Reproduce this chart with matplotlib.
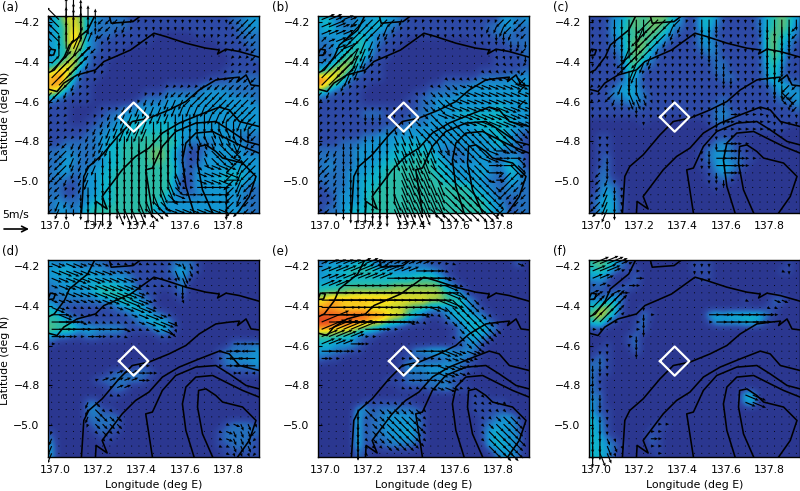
import numpy as np
import matplotlib
matplotlib.use("Agg")
import matplotlib.pyplot as plt
from matplotlib.colors import LinearSegmentedColormap
from matplotlib.transforms import Bbox, TransformedBbox

# colour level per grid cell (hex digit), rows run north to south
SPEED_A = ["35786432222111111111111112233", "34687322222111111111111111233", "34697322211111100000111111222",
           "34697321111111000000000111122", "34586321111000000000000011112", "34574211100000000000000001112",
           "35785211000000000000000001111", "79962111000000000000000011111", "9a841110000000000000001112222",
           "9a621100000000001111122222222", "86211100000001112222233332222", "21111100000012223333333333332",
           "11100001112233333333333333333", "11100011223333333333333333333", "11100112233444444333333333333",
           "11111122334444444433333333333", "11111223344455555433333333222", "11222223445555555532222333322",
           "22322223445555665321123333322", "22332223445555665321133333333", "22422233445555555421233333333",
           "23322334455555555421333344433", "22212334455555555311333444433", "22112334455555555311333333322",
           "22112334455555554322233333322", "23222344455555543333333333222", "23323455555555433333333333322"]
SPEED_B = ["44232333433211111111111113323", "35322334432111111111111223322", "33333443221111111111111122212",
           "22333543211100000000011111222", "22344543111000000000000111112", "21346542110000000000000011112",
           "23476421100000000000000011111", "46875311100000000000001111112", "a9852111100000000111112222333",
           "a7421110000000011222233333333", "42111100000001122223333333333", "11111100000011223333333333333",
           "11111111111111223333333344333", "11111122211112233334444444333", "11111111111122233333344444433",
           "11111111122233333333334444332", "11111122333333333333333344321", "11122233333444433333333344321",
           "22222333334444443222333332221", "22222333344445544322233322331", "23222333445555554433333323531",
           "22223334455555554433334322432", "22223344455555555443333221432", "12223344555555555555543322322",
           "11233345555555555555544322222", "11233345555555555555555432122", "12234445555555555555555433122"]
SPEED_C = ["11133565666431144311111245653", "11134565665321144211111245652", "11134555654211133111111156542",
           "11123566542111133211111156431", "11123566421111123211111156421", "11112565311111112211111146411",
           "11112563211111111221111145311", "11111541111111111221111135211", "11111431111111111122111135211",
           "11113331111111111111111113432", "11133432111111111111111112333", "11122332111111111121111111223",
           "11111121111111111221111111112", "11111111111111111232111111111", "00000001000000001221111111111",
           "00000000000000000111111111100", "01100000000000000111000000000", "01100000000000001232110000000",
           "01100000000000012332110000000", "01200000000000012332211000000", "01200000000000011343210000000",
           "02200000000000001232100000000", "02210000000000001121000000000", "02321000000000000100000000000",
           "12421000000000000000000000000", "13431000000000000000000000000", "13431000000000000000000000000"]
SPEED_D = ["32332222111111111222100000000", "34433333222111111342100000000", "33343433333211111131000000000",
           "23333344443311111130000000000", "22333345554421100120000000000", "22222223345432100010000000000",
           "42111111123443100000000000000", "54211111111234321000000000000", "55432111111123443100000000000",
           "65653433332111243100000000000", "32211221111000011000000000000", "10000000000000000000000002222",
           "00000000000000000000000122223", "00000000000000000000000123333", "00000000000011000000000122223",
           "00000000122222100000000001111", "00000012222221000000000000000", "00000000122000000000000000000",
           "00000000110000000000000000000", "00000220000000000000000000000", "00000231100000000000000000000",
           "00000222220000000000000000000", "00000122220000000000000012221", "10000012110000000000000122222",
           "20000001100000000000000122221", "30000000000000000000000112221", "30000000000000000000000011111"]
SPEED_E = ["23333443222222211110000000020", "34445555443333332100000000000", "33344444444445554210000000000",
           "44455555556666666421000000000", "56667777777777777543100000000", "89a99999998888877655320000000",
           "9a988887777765533334321000000", "bbbbbbbaa98854211244432100000", "ccbbbaa8865421100123444210000",
           "99888654311000000002344320000", "55544211000000000012343200000", "44333210000000000001231000000",
           "33221100000013344432321000000", "21100000000111111223210000000", "00000000000133333332110000000",
           "00000000000122233322100000000", "00000000011122222211000000000", "00000000000111122321100000000",
           "00000000000000000000011000000", "00000011111110000000011111000", "00000331222222100000011111000",
           "00000412233332100000001123310", "00000412233333100000001233320", "00000412233342100000001343320",
           "00000412223333100000001343330", "00000411122221000000000344320", "00000210000000000000000023320"]
SPEED_F = ["56542100000000111000000000010", "45421110000000111000000000110", "33200020000000011000000000000",
           "12101210000000000000000000000", "21122000000000000000000000000", "32342000000000000000010002200",
           "46751001000000000000000011000", "68631002100000003434444421000", "46210012000000001333344310000",
           "11000012000000000000000000000", "00000120000000000000000000000", "00100120000000000000000000000",
           "01100020000000000000000000000", "12100000000000000000000000000", "22100000000000000000000000000",
           "21100000000000000000000000000", "21000000000000000000000000000", "21000000000000000000000000000",
           "22000000000000000000044000000", "32000000000000000000034000000", "31100000000000000000000000000",
           "42100000000000000000000000000", "43100000011000000000000000000", "43100000110000000000000000000",
           "44210000210000000000000000000", "44321000110000000000000000000", "44310000010000000000000000000"]

# wind direction per grid cell, hex digit in steps of 22.5 deg clockwise from north
DIR_A = ["ee00000aaa999988888888888aaaa", "ee00000aa9998888888888888aaaa", "ee00000a99998888888888899aaaa",
         "ee00011999988888888888899aaaa", "e0011aa999988888888889999aaaa", "e0112a9999988888888999999aaaa",
         "2222a99999988888889999aaaaaaa", "2222999999988888899aaaaaaaaaa", "222a99999998888899aaaaaaaaaaa",
         "22a9999999998899aaaaaaaaaaaaa", "aa999999999999999aaaaaaaaaaaa", "aaa9999999999999999aaaaaaaaaa",
         "aaaa999999999999999999aaaaaaa", "aaaa999999999999988888999aaaa", "aaaa999999999988888888888899a",
         "aaaa999999999988888888777888a", "aaaa999998888888888877777788a", "aaa9999998888888888777766799a",
         "aaa99999888888888887776666aaa", "aaa99998888888888886676665aaa", "aaa9999888888888887665555a9aa",
         "aaa9998888888888877655555a9aa", "aa99998888888888776555554a9aa", "aa99988888888887765444448a9aa",
         "aa99888888888877654444448a9aa", "a999888888887766444444448aaaa", "a988888887777666555555558aaaa"]
DIR_B = ["33333aaaaaa99998888888999aaaa", "33333aaaa99999888888888999aaa", "3333aaaa99999888887777888899a",
         "2333aa99999988887777777888888", "2233a9999998887777777777888aa", "2222a999999888777777777777888",
         "2222a99999988877776666666677a", "2222999999988777666666666677a", "2222999999988776666666555566a",
         "2229999999988866666555555555a", "a9999999998887766655555555555", "a999999998887766665555555555a",
         "a9999988888877666555555555555", "a9998888888777665555555555555", "99988888887776666665555555555",
         "99988888887776666666666666666", "99988888887777666666666666666", "a998888888777777776666666666a",
         "a998888888777777666666654555a", "aa98888888777777666666554446a", "aa98888888877776666666644466a",
         "aa98888888877776666666644aaaa", "aa98888888877777766666654aaaa", "aa98888888877777766666666aaaa",
         "aa98888888777777766666666aaaa", "aa98888888777777766666666aaaa", "aa88888888777776666666666aaaa"]
DIR_C = ["88888888aaaaa9988888888888888", "88888889aaa99888888888888888a", "8888888aaaa99888888888888888a",
         "8888888aaa998888888888888888a", "888889aaa9988888888888888888a", "88888aaa99988888888888888888a",
         "88888a9998888888888888888888a", "8888889998888888888888888888a", "8888888888888888888888888888a",
         "aaaa98888888888888888888888aa", "aaaa87777888888888888888886aa", "aaa9877778888888888888888866a",
         "8888888888888888888777777888a", "88888888888888888884444488888", "88888888888888888844444448888",
         "88888888888888888844444448888", "88888888888888888844444448888", "88888888888888888844444448888",
         "89888888888888888444444444888", "89888888888888888444444444888", "99888888888888888444444444888",
         "9a888888888888888844444448888", "9a988888888888888884444488888", "aa988888888888888888888888888",
         "aa988888888888888888888888888", "aa988888888888888888888888888", "aa988888888888888888888888888"]
DIR_D = ["55555555555555555577777788888", "55555555555555555777777788888", "55555555555555555778888888888",
         "55555555555555555788888888888", "55555555555555555788888888888", "55555555555555555778888888888",
         "55555555555555555777888888888", "45555555555555555777788888888", "44445555555555555777788888888",
         "44444444445555556777788888888", "44444444445555555777788888888", "44444444444444444444444444444",
         "44444444444444444444444444ccc", "44444444444444444444444444ccc", "33333333333444444444444444ccc",
         "33333333333344444444444444ccc", "33333333333344444444444444444", "33333333333344444444444444444",
         "55555555555555555555555555555", "66666966666655555555555555555", "66666966666655555555555555555",
         "66666966666655555555555555555", "66666966666655555555555555777", "9666696666665555555555555777a",
         "9666696666665555555555555777a", "9666696666665555555555555777a", "9666696666665555555555555777a"]
DIR_E = ["33333333333333333455555555555", "33333333333334444555555555555", "33333333344444444555555555555",
         "33344444444444444555555555555", "44444444444444444556666666666", "44444444444444445566666666666",
         "44444444444444455666666666666", "44444444444444556666666666666", "34444444444455666666666666666",
         "33333344444556666666666666666", "33333344444566666666666666666", "33334444444455666666666666666",
         "44444444444444445555555555555", "44444444444444445555555555555", "44444444444444445555555555555",
         "44444444444444445555555555555", "44444444444444445555555555555", "55555555555555555555555555555",
         "55555555555666666666666666666", "55555555566666666666666666666", "88888866666666666666666666666",
         "88888866666666666666666666666", "88888866666666666666666666666", "88888866666666666666666666666",
         "88888866666666666666666666666", "88888866666666666666666666666", "88888866666666666666666666666"]
DIR_F = ["33333344444444888555555555588", "33333344444444888555555555588", "33333344444444888555555555588",
         "33444444444444444555555555555", "33334444444444444555555555555", "22222444444444444555555555555",
         "22222448444444445555555555555", "22222448444444444444444444455", "22244448444444444444444444455",
         "44444448444444445555555555555", "44444488444444445555555555555", "88888888444444445555555555555",
         "88888888444444445555555555555", "88888888444444445555555555555", "88888888444444445555555555555",
         "88888888444444445555555555555", "88888888444444445555555555555", "88888888444444445555555555555",
         "88888888444444445555555555777", "88888888444444445555555555777", "88888888444444445555555555777",
         "88888888444444445555555555777", "88888888444444445555555555777", "88887777444444445555555555777",
         "88777777444444445555555555777", "88777777444444445555555555777", "87777777444444445555555555777"]

# arrow speed for each colour level, m/s
LEVEL_MS = [0.2, 0.8, 1.5, 2.3, 3.0, 3.7, 4.2, 4.6, 5.0, 5.3, 5.6, 5.9, 6.2]
LEVEL_COLORS = ["#2b3790", "#2e4aa6", "#2470bd", "#1496d2", "#0fb4cb", "#2cbca6", "#6cbf6a", "#b4cf3c",
                "#f5e31e", "#fbb51e", "#f58a1e", "#ef5f1e", "#d8381e"]

PANELS = ["(a)", "(b)", "(c)", "(d)", "(e)", "(f)"]
SPEEDS = [SPEED_A, SPEED_B, SPEED_C, SPEED_D, SPEED_E, SPEED_F]
DIRS = [DIR_A, DIR_B, DIR_C, DIR_D, DIR_E, DIR_F]

# elevation contours (lon, lat)
CONTOURS = [
    [(136.964, -4.458), (136.995, -4.442), (137.042, -4.375), (137.065, -4.317), (137.15, -4.242), (137.181, -4.175)],
    [(136.966, -4.538), (137.008, -4.55), (137.039, -4.508), (137.101, -4.467), (137.186, -4.442), (137.225, -4.40),
     (137.279, -4.375), (137.349, -4.342), (137.403, -4.30), (137.457, -4.258), (137.512, -4.275), (137.605, -4.308),
     (137.698, -4.333), (137.76, -4.342), (137.752, -4.362), (137.791, -4.338), (137.853, -4.35), (137.944, -4.378)],
    [(137.121, -5.158), (137.132, -4.975), (137.155, -4.925), (137.217, -4.867), (137.295, -4.767), (137.357, -4.70),
     (137.434, -4.683), (137.527, -4.642), (137.605, -4.60), (137.667, -4.542), (137.744, -4.492), (137.806, -4.483),
     (137.853, -4.478), (137.845, -4.50), (137.884, -4.467), (137.907, -4.517), (137.944, -4.522)],
    [(137.186, -5.158), (137.189, -5.10), (137.24, -5.138), (137.217, -5.075), (137.24, -5.042), (137.31, -4.942),
     (137.372, -4.875), (137.434, -4.833), (137.496, -4.758), (137.574, -4.708), (137.667, -4.667), (137.76, -4.628),
     (137.806, -4.642), (137.853, -4.70), (137.944, -4.725)],
    [(137.45, -5.158), (137.419, -4.942), (137.45, -4.933), (137.496, -4.825), (137.558, -4.75), (137.651, -4.708),
     (137.744, -4.70), (137.806, -4.742), (137.884, -4.80), (137.944, -4.817)],
    [(137.643, -5.158), (137.605, -5.025), (137.589, -4.892), (137.605, -4.808), (137.651, -4.758), (137.729, -4.75),
     (137.806, -4.792), (137.868, -4.825), (137.944, -4.858)],
    [(137.729, -5.158), (137.682, -5.042), (137.659, -4.908), (137.664, -4.825), (137.698, -4.817), (137.744, -4.85),
     (137.775, -4.883), (137.868, -4.908), (137.93, -4.975), (137.899, -5.075), (137.845, -5.158)],
    [(136.966, -4.367), (136.977, -4.338), (137.0, -4.342), (136.992, -4.367), (136.966, -4.37)],
    [(137.251, -4.175), (137.259, -4.208), (137.36, -4.20), (137.391, -4.175)],
]

SITE_LON = [137.295, 137.363, 137.431, 137.363, 137.295]
SITE_LAT = [-4.678, -4.605, -4.678, -4.751, -4.678]

XLIM = (136.966, 137.944)
YLIM = (-5.158, -4.172)
XTICKS = [137.0, 137.2, 137.4, 137.6, 137.8]
YTICKS = [-4.2, -4.4, -4.6, -4.8, -5.0]

# axes left / top edge in pixels
LEFTS = [48, 318, 589, 48, 318, 589]
TOPS = [16, 16, 16, 260, 260, 260]
AX_W, AX_H = 211, 197
FIG_W, FIG_H = 800, 491


def read_table(rows):
    return np.array([[int(c, 16) for c in r.ljust(29, r[-1])[:29]] for r in rows])


plt.rcParams["font.family"] = "DejaVu Sans"
cmap = LinearSegmentedColormap.from_list("wind", LEVEL_COLORS)
fig = plt.figure(figsize=(FIG_W / 100, FIG_H / 100), dpi=100)

lons = XLIM[0] + (np.arange(29) + 0.5) / 29 * (XLIM[1] - XLIM[0])
lats = YLIM[1] - (np.arange(27) + 0.5) / 27 * (YLIM[1] - YLIM[0])
X, Y = np.meshgrid(lons, lats)

for i, name in enumerate(PANELS):
    ax = fig.add_axes([LEFTS[i] / FIG_W, 1 - (TOPS[i] + AX_H) / FIG_H, AX_W / FIG_W, AX_H / FIG_H])
    level = read_table(SPEEDS[i])
    heading = np.radians(read_table(DIRS[i]) * 22.5)
    speed = np.array(LEVEL_MS)[level]

    ax.imshow(level, extent=[XLIM[0], XLIM[1], YLIM[0], YLIM[1]], cmap=cmap, vmin=0, vmax=12,
              interpolation="bicubic", aspect="auto", origin="upper")
    for line in CONTOURS:
        ax.plot([p[0] for p in line], [p[1] for p in line], color="black", lw=1.15, zorder=3)
    q = ax.quiver(X, Y, speed * np.sin(heading), speed * np.cos(heading), angles="uv", scale_units="inches",
                  scale=5 / 0.24, units="dots", width=1.15, headwidth=2.8, headlength=3.2, headaxislength=2.8,
                  minlength=1.0, minshaft=1.0, color="black", zorder=4)
    # arrows may run past the top and bottom of the frame, not past its sides
    q.set_clip_box(TransformedBbox(Bbox([[0, -0.12], [1, 1.12]]), ax.transAxes))
    ax.plot(SITE_LON, SITE_LAT, color="white", lw=1.6, zorder=5)

    ax.set_xlim(XLIM)
    ax.set_ylim(YLIM)
    ax.set_xticks(XTICKS)
    ax.set_xticklabels(["%.1f" % t for t in XTICKS])
    ax.set_yticks(YTICKS)
    ax.set_yticklabels(["\u2212%.1f" % abs(t) for t in YTICKS])
    ax.tick_params(direction="in", length=3, width=0.8, labelsize=7.8, pad=6)
    ax.tick_params(axis="x", length=0)
    for side in ax.spines.values():
        side.set_linewidth(1.0)
    fig.text((LEFTS[i] - 46 + (10 if i % 3 == 2 else 0)) / FIG_W, 1 - (TOPS[i] - 9) / FIG_H, name,
             fontsize=8.5, ha="left", va="center")
    if i >= 3:
        ax.set_xlabel("Longitude (deg E)", fontsize=7.8, labelpad=3)
    if i % 3 == 0:
        fig.text(5 / FIG_W, 1 - (TOPS[i] + 100) / FIG_H, "Latitude (deg N)", fontsize=7.8, rotation=90,
                 ha="center", va="center")

# 5 m/s reference arrow
fig.text(2 / FIG_W, 1 - 215 / FIG_H, "5m/s", fontsize=7.8, ha="left", va="center")
fig.axes[0].annotate("", xy=(29 / FIG_W, 1 - 229 / FIG_H), xytext=(4 / FIG_W, 1 - 229 / FIG_H),
                     xycoords="figure fraction", textcoords="figure fraction",
                     arrowprops=dict(arrowstyle="->", lw=1.2, color="black", shrinkA=0, shrinkB=0))

plt.savefig("out.png", dpi=100)
